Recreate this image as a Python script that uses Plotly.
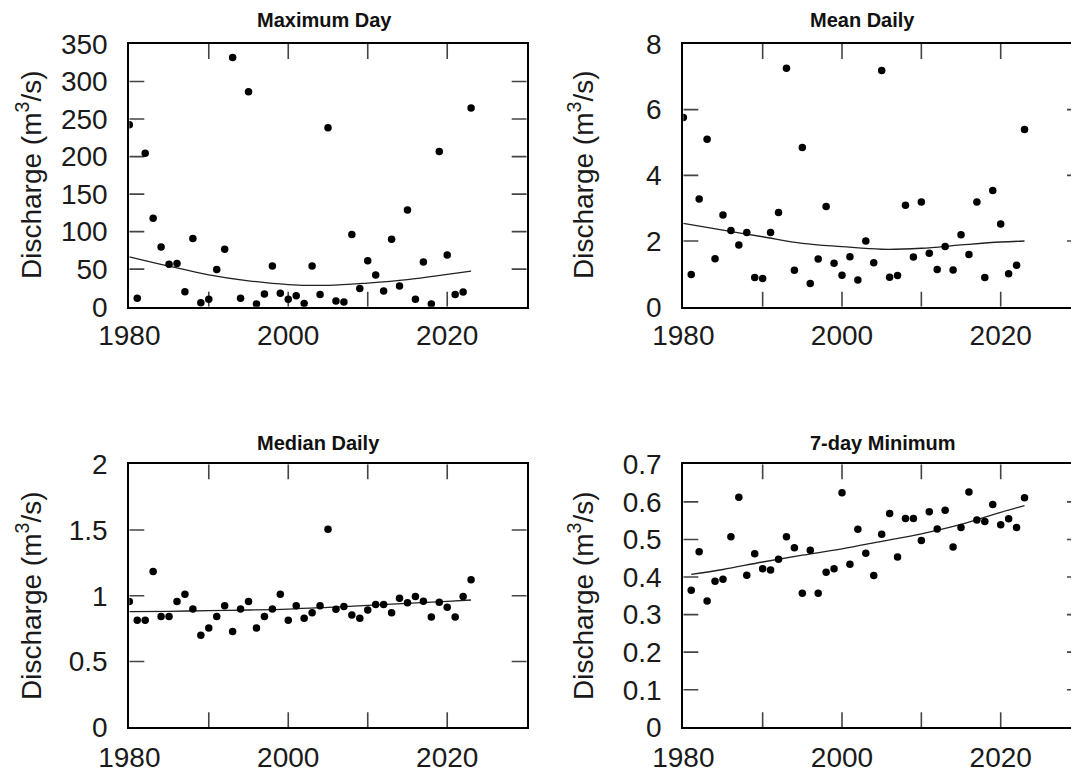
import plotly.graph_objects as go

# ---------------- data ----------------
years = list(range(1980, 2024))
years_7day = list(range(1981, 2024))

max_day = [242.5, 11.1, 204.3, 117.7, 79.5, 56.4, 57.7, 20.0, 91.0, 5.3,
           9.8, 49.7, 76.4, 332.0, 11.1, 286.4, 3.6, 16.9, 54.2, 17.8,
           9.8, 14.7, 4.4, 54.2, 16.4, 238.4, 7.5, 6.2, 96.3, 24.4,
           61.3, 42.2, 20.9, 89.7, 27.5, 128.8, 9.8, 59.5, 3.6, 206.9,
           68.8, 16.4, 19.5, 264.6]

mean_daily = [5.76, 0.98, 3.28, 5.10, 1.46, 2.79, 2.32, 1.88, 2.26, 0.89,
              0.86, 2.26, 2.87, 7.26, 1.11, 4.85, 0.71, 1.45, 3.05, 1.32,
              0.96, 1.52, 0.81, 2.00, 1.34, 7.19, 0.90, 0.95, 3.09, 1.51,
              3.19, 1.63, 1.13, 1.83, 1.12, 2.19, 1.59, 3.19, 0.89, 3.54,
              2.52, 1.00, 1.26, 5.40]

median_daily = [0.956, 0.814, 0.814, 1.184, 0.842, 0.842, 0.956, 1.011, 0.900, 0.700,
                0.755, 0.842, 0.925, 0.728, 0.900, 0.956, 0.755, 0.842, 0.900, 1.011,
                0.814, 0.925, 0.829, 0.872, 0.925, 1.506, 0.897, 0.918, 0.854, 0.829,
                0.892, 0.933, 0.933, 0.872, 0.981, 0.948, 0.994, 0.958, 0.839, 0.950,
                0.913, 0.839, 0.994, 1.123]

min_7day = [0.365, 0.467, 0.336, 0.389, 0.394, 0.507, 0.612, 0.405, 0.462, 0.422,
            0.419, 0.447, 0.507, 0.478, 0.357, 0.471, 0.357, 0.413, 0.422, 0.624,
            0.434, 0.527, 0.463, 0.404, 0.514, 0.569, 0.453, 0.556, 0.556, 0.497,
            0.574, 0.528, 0.578, 0.480, 0.532, 0.626, 0.552, 0.548, 0.593, 0.539,
            0.555, 0.532, 0.611]

# fitted trend curves
trend_years = [1980, 1985, 1990, 1995, 2000, 2005, 2010, 2015, 2020, 2023]
trend_max = [66.5, 54.0, 42.5, 34.5, 29.5, 28.5, 31.5, 36.0, 43.0, 47.5]
trend_mean = [2.54, 2.33, 2.13, 1.93, 1.83, 1.75, 1.78, 1.88, 1.97, 2.00]
trend_median = [0.879, 0.882, 0.887, 0.892, 0.899, 0.912, 0.927, 0.942, 0.958, 0.968]
trend_7day_years = [1981, 1985, 1990, 1995, 2000, 2005, 2010, 2015, 2020, 2023]
trend_7day = [0.407, 0.420, 0.440, 0.458, 0.475, 0.495, 0.515, 0.540, 0.572, 0.590]

titles = ["Maximum Day", "Mean Daily", "Median Daily", "7-day Minimum"]
y_title = "Discharge (m<sup>3</sup>/s)"
x_tickvals = [1980, 1990, 2000, 2010, 2020, 2030]
x_ticktext = ["1980", "", "2000", "", "2020", ""]
y_ticks_max = [0, 50, 100, 150, 200, 250, 300, 350]
y_ticks_mean = [0, 2, 4, 6, 8]
y_ticks_median = [0, 0.5, 1, 1.5, 2]
y_ticks_7day = [0, 0.1, 0.2, 0.3, 0.4, 0.5, 0.6, 0.7]

# ---------------- figure ----------------
W, H = 1071, 776
FONT = "Liberation Sans, Arial, sans-serif"
TICKC = "#444444"
TICKLEN = 15

def px_x(p):
    return p / W

def px_y(p):
    return 1 - p / H

left_dom = [px_x(129.3), px_x(526.7)]
right_dom = [px_x(683.3), 1.0]
top_dom = [px_y(306.7), px_y(44)]
bot_dom = [px_y(727.3), px_y(464.3)]
right_x_range = [1980, 2028.86]

tickfont = dict(family=FONT, size=28, color="#1a1a1a")

panels = [
    (left_dom, [1980, 2030], top_dom, y_ticks_max, years, max_day, trend_years, trend_max, False, 3),
    (right_dom, right_x_range, top_dom, y_ticks_mean, years, mean_daily, trend_years, trend_mean, True, 3),
    (left_dom, [1980, 2030], bot_dom, y_ticks_median, years, median_daily, trend_years, trend_median, False, 4),
    (right_dom, right_x_range, bot_dom, y_ticks_7day, years_7day, min_7day, trend_7day_years, trend_7day, True, 4),
]

fig = go.Figure()
layout = {}

for i, (xd, xr, yd, yt, xs, ys, tx, ty, clipped, xstand) in enumerate(panels, start=1):
    xa = "x" if i == 1 else f"x{i}"
    ya = "y" if i == 1 else f"y{i}"
    xkey = "xaxis" if i == 1 else f"xaxis{i}"
    ykey = "yaxis" if i == 1 else f"yaxis{i}"
    yr = [yt[0], yt[-1]]

    # inward tick marks, built from the tick values and converted from pixels to data units
    w_px = (xd[1] - xd[0]) * W
    h_px = (yd[1] - yd[0]) * H
    dx = TICKLEN * (xr[1] - xr[0]) / w_px
    dx_right = (4 if clipped else TICKLEN) * (xr[1] - xr[0]) / w_px
    dy = TICKLEN * (yr[1] - yr[0]) / h_px
    tick_x, tick_y = [], []
    for v in yt[1:-1]:
        tick_x += [xr[0], xr[0] + dx, None, xr[1] - dx_right, xr[1], None]
        tick_y += [v, v, None, v, v, None]
    for v in x_tickvals:
        if v <= xr[0] or v >= xr[1]:
            continue
        tick_x += [v, v, None, v, v, None]
        tick_y += [yr[0], yr[0] + dy, None, yr[1] - dy, yr[1], None]
    fig.add_trace(go.Scatter(x=tick_x, y=tick_y, mode="lines", xaxis=xa, yaxis=ya,
                             line=dict(color=TICKC, width=1.6), connectgaps=False,
                             showlegend=False, hoverinfo="skip"))

    fig.add_trace(go.Scatter(x=tx, y=ty, mode="lines", xaxis=xa, yaxis=ya,
                             line=dict(color="#222222", width=1.3, shape="spline"),
                             showlegend=False, hoverinfo="skip"))
    fig.add_trace(go.Scatter(x=xs, y=ys, mode="markers", xaxis=xa, yaxis=ya,
                             marker=dict(color="black", size=7.5), showlegend=False))

    layout[xkey] = dict(domain=xd, range=xr, anchor=ya, automargin=False,
                        tickmode="array", tickvals=x_tickvals, ticktext=x_ticktext,
                        ticks="", showline=True, linewidth=2, linecolor="black", mirror=True,
                        showgrid=False, zeroline=False, tickfont=tickfont,
                        ticklabelstandoff=xstand)
    layout[ykey] = dict(domain=yd, range=yr, anchor=xa, automargin=False,
                        tickmode="array", tickvals=yt, ticktext=[f"{v:g}" for v in yt],
                        ticks="", showline=True, linewidth=2, linecolor="black",
                        mirror=(not clipped), showgrid=False, zeroline=False,
                        tickfont=tickfont, ticklabelstandoff=14)

fig.update_layout(
    template="none",
    width=W, height=H, autosize=False,
    margin=dict(l=0, r=0, t=0, b=0, pad=0),
    paper_bgcolor="white", plot_bgcolor="white",
    **layout,
)

# panel titles
title_pos = [(255, 20), (808, 20), (255, 443), (808, 443)]
for t, (x, y) in zip(titles, title_pos):
    fig.add_annotation(text="<b>" + t + "</b>", x=px_x(x), y=px_y(y), xref="paper", yref="paper",
                       xanchor="left", yanchor="middle", showarrow=False,
                       font=dict(family=FONT, size=20, color="#111111"))

# y-axis titles
for x, y in [(29, 175), (581, 175), (29, 596), (581, 596)]:
    fig.add_annotation(text=y_title, x=px_x(x), y=px_y(y), xref="paper", yref="paper",
                       xanchor="center", yanchor="middle", textangle=-90, showarrow=False,
                       font=dict(family=FONT, size=28, color="#1a1a1a"))

fig.write_html("out.html")
